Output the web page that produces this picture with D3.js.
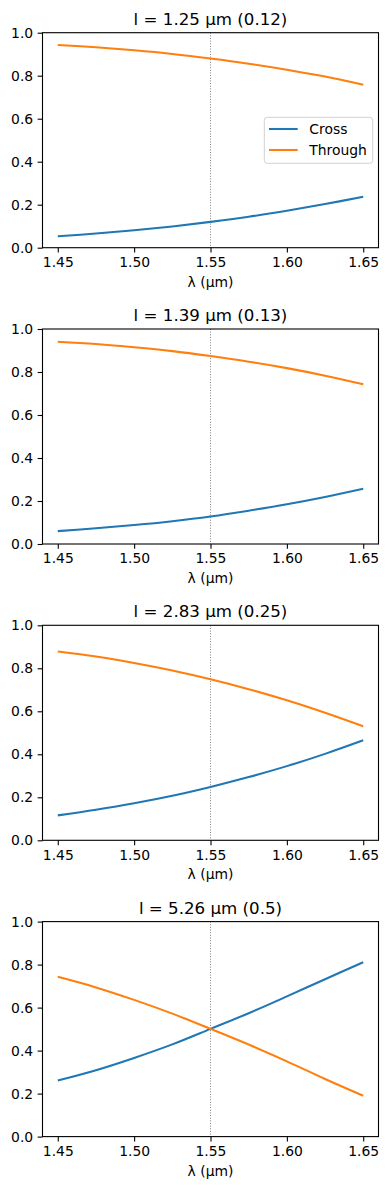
<!DOCTYPE html>
<html>
<head>
<meta charset="utf-8">
<script src="https://cdn.jsdelivr.net/npm/d3@7"></script>
<style>
  body { margin: 0; background: #fff; }
  svg { display: block; font-family: "DejaVu Sans", sans-serif; }
</style>
</head>
<body>
<script>
// wavelengths (µm) sampled along each curve
const wavelengths = [1.45, 1.475, 1.50, 1.525, 1.55, 1.575, 1.60, 1.625, 1.65];

const titles = ["l = 1.25 µm (0.12)", "l = 1.39 µm (0.13)", "l = 2.83 µm (0.25)", "l = 5.26 µm (0.5)"];

const crossValues = [
    [0.053, 0.066, 0.081, 0.099, 0.120, 0.144, 0.172, 0.203, 0.237],
    [0.060, 0.073, 0.088, 0.106, 0.128, 0.155, 0.185, 0.219, 0.257],
    [0.116, 0.142, 0.172, 0.207, 0.248, 0.294, 0.345, 0.402, 0.465],
    [0.261, 0.309, 0.366, 0.429, 0.501, 0.574, 0.652, 0.732, 0.811]
];
const throughValues = [
    [0.943, 0.932, 0.918, 0.901, 0.880, 0.856, 0.828, 0.796, 0.758],
    [0.941, 0.930, 0.915, 0.897, 0.874, 0.848, 0.818, 0.783, 0.743],
    [0.878, 0.855, 0.825, 0.790, 0.749, 0.703, 0.651, 0.593, 0.530],
    [0.743, 0.694, 0.636, 0.572, 0.501, 0.428, 0.350, 0.268, 0.190]
];

const xTicks = [1.45, 1.50, 1.55, 1.60, 1.65];
const yTicks = [0.0, 0.2, 0.4, 0.6, 0.8, 1.0];
const markerWavelength = 1.55;
const seriesNames = ["Cross", "Through"];
const seriesColors = ["#1f77b4", "#ff7f0e"];

const W = 388, H = 1190;
const left = 42.5, right = 378.5;
const panelTop = 32.7, panelStep = 296.3, panelH = 215;

const svg = d3.select("body").append("svg")
    .attr("width", W)
    .attr("height", H);

const x = d3.scaleLinear().domain([1.44, 1.66]).range([left, right]);

titles.forEach((title, i) => {
    const top = panelTop + i * panelStep;
    const bottom = top + panelH;
    const y = d3.scaleLinear().domain([0, 1]).range([bottom, top]);
    const g = svg.append("g");

    // vertical dotted marker at the design wavelength
    g.append("line")
        .attr("x1", x(markerWavelength)).attr("x2", x(markerWavelength))
        .attr("y1", top).attr("y2", bottom)
        .attr("stroke", "#808080")
        .attr("stroke-width", 1)
        .attr("stroke-dasharray", "1,1.65");

    const line = d3.line()
        .x(d => x(d[0]))
        .y(d => y(d[1]))
        .curve(d3.curveCatmullRom.alpha(0.5));

    [crossValues[i], throughValues[i]].forEach((vals, k) => {
        g.append("path")
            .datum(wavelengths.map((w, j) => [w, vals[j]]))
            .attr("d", line)
            .attr("fill", "none")
            .attr("stroke", seriesColors[k])
            .attr("stroke-width", 2.08);
    });

    // axes
    const xAxis = d3.axisBottom(x).tickValues(xTicks).tickFormat(d3.format(".2f"))
        .tickSizeOuter(0).tickSize(4.86).tickPadding(4.5);
    const gx = g.append("g").attr("transform", `translate(0,${bottom})`).call(xAxis);
    const yAxis = d3.axisLeft(y).tickValues(yTicks).tickFormat(d3.format(".1f"))
        .tickSizeOuter(0).tickSize(4.86).tickPadding(4.5);
    const gy = g.append("g").attr("transform", `translate(${left},0)`).call(yAxis);
    [gx, gy].forEach(a => {
        a.select(".domain").remove();
        a.selectAll(".tick line").attr("stroke", "#000").attr("stroke-width", 1.1);
        a.selectAll(".tick text")
            .attr("fill", "#000")
            .style("font-size", "13.9px")
            .style("font-family", "DejaVu Sans, sans-serif");
    });

    // frame
    g.append("rect")
        .attr("x", left).attr("y", top)
        .attr("width", right - left).attr("height", panelH)
        .attr("fill", "none")
        .attr("stroke", "#000")
        .attr("stroke-width", 1.1);

    g.append("text")
        .attr("x", (left + right) / 2)
        .attr("y", top - 8)
        .attr("text-anchor", "middle")
        .style("font-size", "16.67px")
        .text(title);

    g.append("text")
        .attr("x", (left + right) / 2)
        .attr("y", bottom + 39)
        .attr("text-anchor", "middle")
        .style("font-size", "13.9px")
        .text("λ (µm)");

    if (i === 0) {
        const lg = g.append("g");
        lg.append("rect")
            .attr("x", 264.3).attr("y", 117.3)
            .attr("width", 108.4).attr("height", 46)
            .attr("rx", 3)
            .attr("fill", "#fff").attr("fill-opacity", 0.8)
            .attr("stroke", "#d0d0d0").attr("stroke-width", 1);
        seriesNames.forEach((name, k) => {
            const ly = 129 + k * 21;
            lg.append("line")
                .attr("x1", 269).attr("x2", 297.7)
                .attr("y1", ly).attr("y2", ly)
                .attr("stroke", seriesColors[k])
                .attr("stroke-width", 2.08);
            lg.append("text")
                .attr("x", 309.3).attr("y", ly + 5)
                .style("font-size", "13.9px")
                .text(name);
        });
    }
});
</script>
</body>
</html>
